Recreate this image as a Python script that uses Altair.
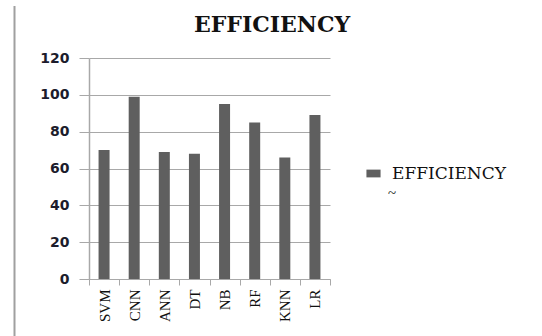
import altair as alt
import pandas as pd

categories = ["SVM", "CNN", "ANN", "DT", "NB", "RF", "KNN", "LR"]
efficiency = [70, 99, 69, 68, 95, 85, 66, 89]
series_name = ["EFFICIENCY"]
title_text = ["EFFICIENCY"]
y_ticks = [0, 20, 40, 60, 80, 100, 120]

df = pd.DataFrame({"model": categories, "value": efficiency, "series": series_name * len(categories)})

GRID = "#a8a8a8"
LEFT, TOP = 89, 58
W, H = 241, 221

bars = alt.Chart(df).mark_bar(size=11).encode(
    x=alt.X("model:N", sort=categories, title=None,
            scale=alt.Scale(paddingInner=0, paddingOuter=0),
            axis=alt.Axis(labelAngle=-90, labelFont="Liberation Serif", labelFontSize=15,
                          labelColor="#111111", tickBand="extent", tickSize=6,
                          tickColor=GRID, domainColor=GRID, labelPadding=4, grid=False)),
    y=alt.Y("value:Q", title=None,
            scale=alt.Scale(domain=[0, 120], nice=False),
            axis=alt.Axis(values=y_ticks, grid=True, gridColor=GRID, tickSize=10,
                          tickColor=GRID, domainColor=GRID, domainWidth=1.5,
                          labelFont="DejaVu Sans", labelFontWeight="bold", labelFontSize=14,
                          labelColor="#1c1c2c", labelPadding=10)),
    color=alt.Color("series:N", scale=alt.Scale(range=["#5f5f5f"]),
                    legend=alt.Legend(orient="none", legendX=276, legendY=107, title=None,
                                      symbolType="M-1,-0.55H1V0.55H-1Z", symbolSize=200,
                                      symbolStrokeWidth=0, labelOffset=10,
                                      labelFont="DejaVu Serif", labelFontSize=17,
                                      labelColor="#111111", padding=0)),
)

title = alt.Chart(pd.DataFrame({"t": title_text})).mark_text(
    font="DejaVu Serif", fontSize=22, fontWeight="bold", color="#111111",
    align="center", baseline="alphabetic"
).encode(x=alt.value(272 - LEFT), y=alt.value(32 - TOP), text="t:N")

tilde = alt.Chart(pd.DataFrame({"t": ["~"]})).mark_text(
    font="Liberation Serif", fontSize=15, color="#111111", align="left", baseline="middle"
).encode(x=alt.value(388 - LEFT), y=alt.value(193 - TOP), text="t:N")

left_line = alt.Chart(pd.DataFrame({"t": [0]})).mark_rule(color="#a0a0a0", strokeWidth=2).encode(
    x=alt.value(14.5 - LEFT), y=alt.value(6 - TOP), y2=alt.value(336 - TOP)
)

chart = alt.layer(bars, title, tilde, left_line).properties(
    width=W, height=H,
    autosize=alt.AutoSizeParams(type="none"),
    padding={"left": LEFT, "top": TOP, "right": 542 - LEFT - W, "bottom": 336 - TOP - H},
    background="white",
).configure_view(stroke=None)

chart.save("out.html", embed_options={"renderer": "svg", "actions": False})
